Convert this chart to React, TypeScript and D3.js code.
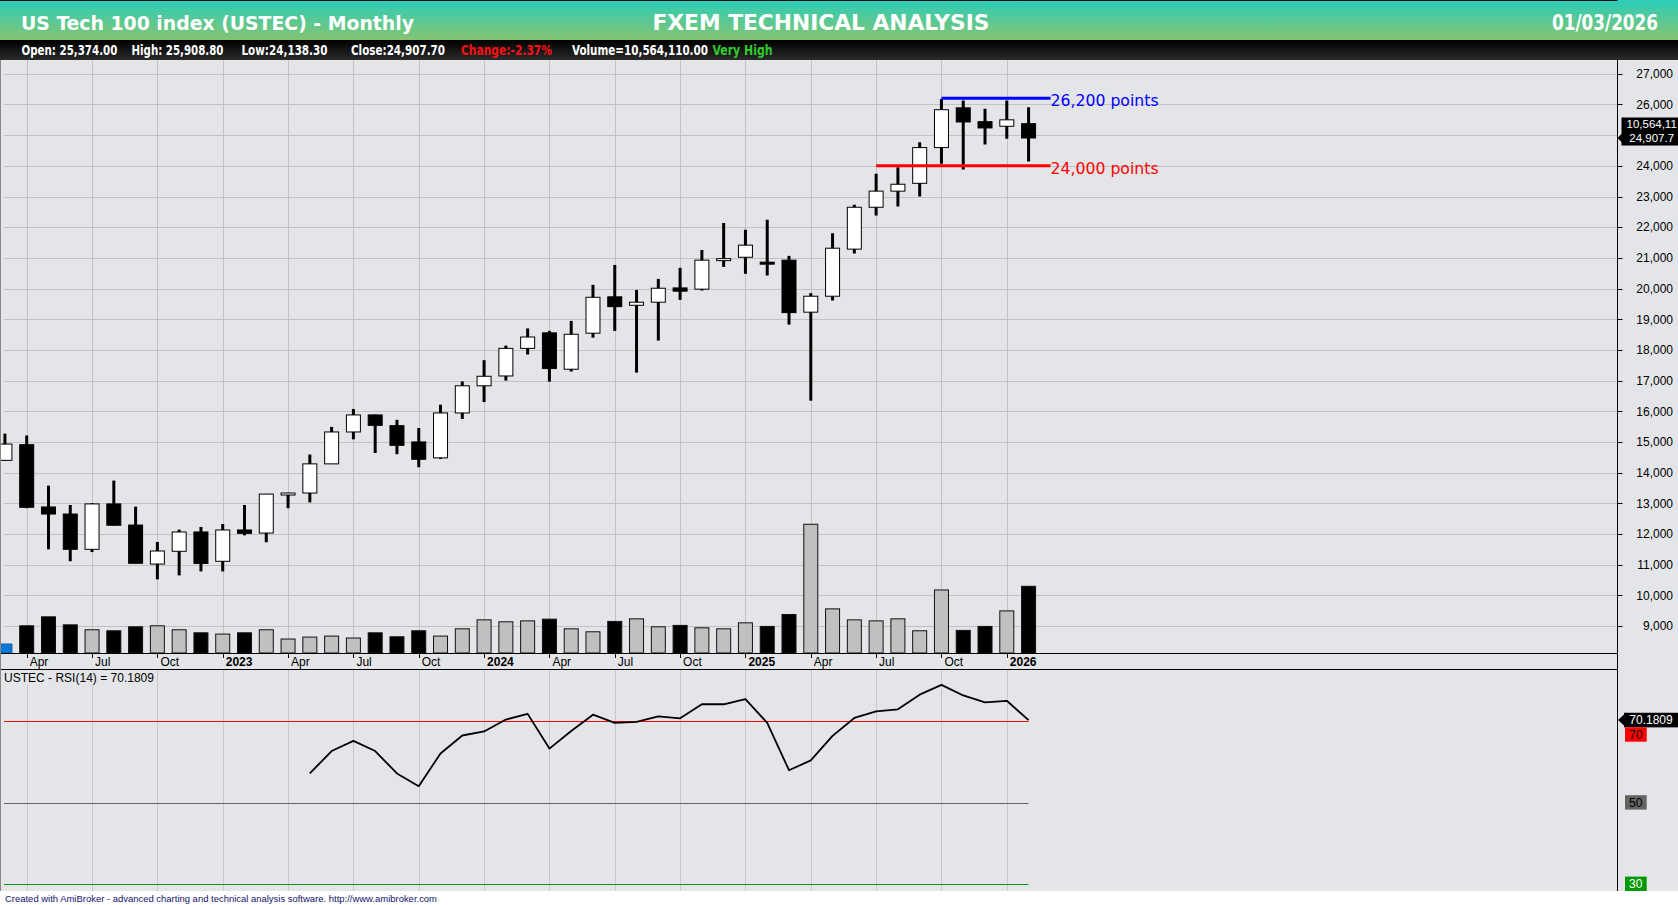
import React from "react";
import * as d3 from "d3";

const months = [
  "2022-03","2022-04","2022-05","2022-06","2022-07","2022-08","2022-09","2022-10","2022-11","2022-12",
  "2023-01","2023-02","2023-03","2023-04","2023-05","2023-06","2023-07","2023-08","2023-09","2023-10","2023-11","2023-12",
  "2024-01","2024-02","2024-03","2024-04","2024-05","2024-06","2024-07","2024-08","2024-09","2024-10","2024-11","2024-12",
  "2025-01","2025-02","2025-03","2025-04","2025-05","2025-06","2025-07","2025-08","2025-09","2025-10","2025-11","2025-12",
  "2026-01","2026-02",
];

const opens = [
  14400, 14910, 12880, 12650, 11500, 12980, 12290, 11020, 11435, 12065,
  11110, 12130, 12030, 13275, 13335, 14285, 15325, 15880, 15530, 15000, 14480, 15945,
  16830, 17150, 18050, 18555, 17370, 18545, 19730, 19455, 19555, 20020, 19980, 20950,
  21020, 20860, 20925, 19230, 19750, 21285, 22650, 23175, 23430, 24595, 25890, 25440,
  25290, 25374,
];
const highs = [
  15270, 15210, 13575, 12945, 13010, 13740, 12890, 11740, 12140, 12230,
  12325, 12945, 13305, 13340, 14590, 15490, 16075, 15890, 15720, 15455, 16215, 16970,
  17665, 18140, 18700, 18620, 18945, 20120, 20770, 19955, 20315, 20675, 21260, 22140,
  21915, 22240, 21065, 19850, 21805, 22730, 23740, 23950, 24770, 26180, 26130, 25860,
  26130, 25908.8,
];
const lows = [
  14380, 12840, 11500, 11110, 11410, 12280, 11040, 10520, 10650, 10780,
  10780, 11955, 11730, 12840, 13030, 14280, 15085, 14640, 14600, 14175, 14445, 15750,
  16300, 17000, 17850, 16965, 17295, 18400, 18620, 17260, 18305, 19630, 19935, 20705,
  20480, 20425, 18825, 16345, 19610, 21140, 22380, 22675, 23000, 24070, 23880, 24695,
  24880, 24138.3,
];
const closes = [
  14930, 12870, 12650, 11500, 12980, 12285, 11045, 11445, 12065, 11040,
  12130, 12020, 13300, 13335, 14285, 15325, 15880, 15540, 14890, 14435, 15945, 16830,
  17140, 18050, 18420, 17390, 18510, 19715, 19410, 19555, 20010, 19915, 20925, 20975,
  21415, 20835, 19215, 19750, 21315, 22650, 23175, 23400, 24595, 25830, 25430, 25235,
  25500, 24907.7,
];
// volume in millions
const volumes = [
  1.42, 4.31, 5.73, 4.46, 3.68, 3.52, 4.15, 4.31, 3.68, 3.2,
  3.0, 3.2, 3.68, 2.21, 2.52, 2.68, 2.37, 3.2, 2.57, 3.52, 2.68, 3.83,
  5.25, 4.94, 5.09, 5.36, 3.83, 3.36, 5.0, 5.41, 4.15, 4.37, 3.99, 3.83,
  4.78, 4.21, 6.1, 20.39, 6.99, 5.25, 5.09, 5.41, 3.52, 9.98, 3.58, 4.21,
  6.67, 10.564,
];

const rsiStart = 14; // 2023-05
const rsiValues = [
  57.1, 62.6, 65.1, 62.6, 57.1, 54.0, 62.0, 66.4,
  67.4, 70.3, 71.7, 63.2, 67.5, 71.5, 69.5, 69.75, 71.1, 70.6, 74.05, 74.05,
  75.3, 69.5, 57.9, 60.3, 66.3, 70.7, 72.3, 72.8, 76.4, 78.8, 76.2, 74.5,
  74.9, 70.1809,
];

const priceTicks = [9000, 10000, 11000, 12000, 13000, 14000, 15000, 16000, 17000, 18000,
  19000, 20000, 21000, 22000, 23000, 24000, 25000, 26000, 27000];

const dateTicks = [
  { i: 1, label: "Apr", year: false }, { i: 4, label: "Jul", year: false }, { i: 7, label: "Oct", year: false },
  { i: 10, label: "2023", year: true }, { i: 13, label: "Apr", year: false }, { i: 16, label: "Jul", year: false },
  { i: 19, label: "Oct", year: false }, { i: 22, label: "2024", year: true }, { i: 25, label: "Apr", year: false },
  { i: 28, label: "Jul", year: false }, { i: 31, label: "Oct", year: false }, { i: 34, label: "2025", year: true },
  { i: 37, label: "Apr", year: false }, { i: 40, label: "Jul", year: false }, { i: 43, label: "Oct", year: false },
  { i: 46, label: "2026", year: true },
];

const levelValues = [26200, 24000];
const levelStarts = [43, 40];
const levelLabels = ["26,200 points", "24,000 points"];
const levelColors = ["#0000ff", "#ff0000"];

const rsiLevels = [70, 50, 30];
const rsiLevelColors = ["#ff0000", "#666666", "#009900"];

const BG = "#e4e5e8";
const GRID = "#c2c2c2";
const AXIS_X = 1617.5;

export default function App() {
  const x = d3.scaleLinear().domain([0, 47]).range([4.92, 1028.58]);
  const yP = d3.scaleLinear().domain([9000, 27000]).range([626.0, 73.8]);
  const yV = d3.scaleLinear().domain([0, 10.564]).range([653, 586.3]);
  const yR = d3.scaleLinear().domain([30, 70]).range([884.2, 720.8]);

  const rsiPts = rsiValues.map((v, k) => [x(rsiStart + k), yR(v)] as [number, number]);
  const rsiPath = d3.line()(rsiPts) || "";

  const lastX = x(months.length - 1);
  const levelEnd = lastX + 22;
  const narrow = "'Liberation Sans Narrow','Arial Narrow','DejaVu Sans Condensed',sans-serif";
  const sans = "'Liberation Sans',Arial,sans-serif";

  const closeY = yP(closes[closes.length - 1]);
  const markerTop = 117.5;
  const markerBottom = 145.5;
  const rsiLast = rsiValues[rsiValues.length - 1];
  const rsiY = yR(rsiLast);

  // labels hidden behind the last-value marker are not drawn (as in the reference)
  const visiblePriceTicks = priceTicks.filter((t) => {
    const yy = yP(t);
    return yy < markerTop - 4 || yy > markerBottom + 4;
  });

  return (
    <svg
      width={1678}
      height={905}
      style={{ position: "fixed", left: 0, top: 0, display: "block" }}
      fontFamily={sans}
    >
      <defs>
        <linearGradient id="hdr" x1="0" y1="0" x2="0" y2="1">
          <stop offset="0" stopColor="#2ccdb9" />
          <stop offset="1" stopColor="#84c471" />
        </linearGradient>
        <linearGradient id="stat" x1="0" y1="0" x2="0" y2="1">
          <stop offset="0" stopColor="#000000" />
          <stop offset="1" stopColor="#2a2a2a" />
        </linearGradient>
        <clipPath id="mainClip">
          <rect x={0} y={60} width={AXIS_X} height={594} />
        </clipPath>
      </defs>

      {/* backgrounds */}
      <rect x={0} y={0} width={1678} height={905} fill="#ffffff" />
      <rect x={0} y={60} width={1678} height={831} fill={BG} />
      <rect x={0} y={0} width={1678} height={40} fill="url(#hdr)" />
      <rect x={0} y={0} width={AXIS_X} height={1} fill="#111" />
      <rect x={0} y={40} width={1678} height={20} fill="url(#stat)" />

      {/* header text */}
      <text x={21} y={30} fill="#fff" fontFamily={narrow} fontWeight="bold" fontSize={19.5}
        textLength={393} lengthAdjust="spacingAndGlyphs">US Tech 100 index (USTEC) - Monthly</text>
      <text x={652.5} y={29.5} fill="#fff" fontFamily={narrow} fontWeight="bold" fontSize={22}
        textLength={337} lengthAdjust="spacingAndGlyphs">FXEM TECHNICAL ANALYSIS</text>
      <text x={1552} y={30} fill="#fff" fontFamily={narrow} fontWeight="bold" fontSize={21}
        textLength={106} lengthAdjust="spacingAndGlyphs">01/03/2026</text>

      <g fontFamily={narrow} fontWeight="bold" fontSize={14}>
        <text x={21.4} y={54.5} fill="#fff" textLength={96} lengthAdjust="spacingAndGlyphs">Open: 25,374.00</text>
        <text x={131.5} y={54.5} fill="#fff" textLength={92} lengthAdjust="spacingAndGlyphs">High: 25,908.80</text>
        <text x={241.5} y={54.5} fill="#fff" textLength={86} lengthAdjust="spacingAndGlyphs">Low:24,138.30</text>
        <text x={351} y={54.5} fill="#fff" textLength={94} lengthAdjust="spacingAndGlyphs">Close:24,907.70</text>
        <text x={461} y={54.5} fill="#ff1010" textLength={91} lengthAdjust="spacingAndGlyphs">Change:-2.37%</text>
        <text x={572} y={54.5} fill="#fff" textLength={136} lengthAdjust="spacingAndGlyphs">Volume=10,564,110.00</text>
        <text x={712.5} y={54.5} fill="#2ecc2e" textLength={60} lengthAdjust="spacingAndGlyphs">Very High</text>
      </g>

      {/* main pane grid */}
      {priceTicks.map((t) => (
        <line key={"hg" + t} x1={4} x2={AXIS_X} y1={Math.round(yP(t)) + 0.5} y2={Math.round(yP(t)) + 0.5}
          stroke={GRID} strokeWidth={1} />
      ))}
      {dateTicks.map((d) => (
        <line key={"vg" + d.i} x1={Math.round(x(d.i)) + 0.5} x2={Math.round(x(d.i)) + 0.5} y1={60} y2={653}
          stroke={GRID} strokeWidth={1} />
      ))}

      <g clipPath="url(#mainClip)">
        {/* volume */}
        {volumes.map((v, i) => {
          const up = closes[i] >= opens[i];
          const fill = i === 0 ? "#0a78d8" : up ? "#c0c0c0" : "#000000";
          const stroke = i === 0 ? "#0a5aa8" : "#111";
          return (
            <rect key={"v" + i} x={x(i) - 7} y={yV(v)} width={14} height={yV(0) - yV(v)}
              fill={fill} stroke={stroke} strokeWidth={1} />
          );
        })}
        {/* candles */}
        {months.map((m, i) => {
          const o = opens[i], c = closes[i], h = highs[i], l = lows[i];
          const up = c >= o;
          const top = yP(Math.max(o, c));
          const bh = Math.max(Math.abs(yP(o) - yP(c)), 2);
          return (
            <g key={m}>
              <line x1={x(i)} x2={x(i)} y1={yP(h)} y2={yP(l)} stroke="#000" strokeWidth={3} />
              <rect x={x(i) - 7} y={top} width={14} height={bh} fill={up ? "#fff" : "#000"}
                stroke="#000" strokeWidth={1} />
            </g>
          );
        })}
      </g>

      {/* level lines */}
      {levelValues.map((v, k) => (
        <g key={"lv" + k}>
          <line x1={x(levelStarts[k])} x2={levelEnd} y1={yP(v)} y2={yP(v)} stroke={levelColors[k]} strokeWidth={3} />
          <text x={levelEnd} y={yP(v) + 8} fill={levelColors[k]} fontFamily="'DejaVu Sans',Verdana,sans-serif"
            fontSize={15.5} textLength={108} lengthAdjust="spacingAndGlyphs">{levelLabels[k]}</text>
        </g>
      ))}

      {/* pane separators */}
      <line x1={0} x2={AXIS_X} y1={653.5} y2={653.5} stroke="#000" strokeWidth={1} />
      <line x1={0} x2={AXIS_X} y1={669.5} y2={669.5} stroke="#000" strokeWidth={1} />
      <line x1={AXIS_X} x2={AXIS_X} y1={60} y2={891} stroke="#000" strokeWidth={1} />
      <line x1={0.5} x2={0.5} y1={60} y2={891} stroke="#888" strokeWidth={1} />

      {/* date axis */}
      {dateTicks.map((d) => (
        <g key={"dt" + d.i}>
          <line x1={Math.round(x(d.i)) + 0.5} x2={Math.round(x(d.i)) + 0.5} y1={654} y2={658} stroke="#000" strokeWidth={1} />
          <text x={x(d.i) + 3} y={665.5} fontSize={12} fontWeight={d.year ? "bold" : "normal"} fill="#000">{d.label}</text>
        </g>
      ))}

      {/* price axis */}
      {visiblePriceTicks.map((t) => (
        <g key={"pt" + t}>
          <line x1={1618} x2={1622.5} y1={Math.round(yP(t)) + 0.5} y2={Math.round(yP(t)) + 0.5} stroke="#000" strokeWidth={1} />
          <text x={1673} y={yP(t) + 4.3} fontSize={12} textAnchor="end" fill="#000">{d3.format(",")(t)}</text>
        </g>
      ))}
      {/* close / volume marker */}
      <rect x={1621.5} y={markerTop} width={60} height={markerBottom - markerTop} fill="#000" />
      <polygon points={`${AXIS_X},${closeY} ${1622},${closeY - 4.5} ${1622},${closeY + 4.5}`} fill="#000" />
      <text x={1626.5} y={127.5} fontSize={11.5} fill="#fff">10,564,11</text>
      <text x={1629.3} y={141.5} fontSize={11.5} fill="#fff">{d3.format(",.1f")(closes[closes.length - 1])}</text>

      {/* RSI pane */}
      {dateTicks.map((d) => (
        <line key={"rg" + d.i} x1={Math.round(x(d.i)) + 0.5} x2={Math.round(x(d.i)) + 0.5} y1={670} y2={891}
          stroke="#c8c8c8" strokeWidth={1} />
      ))}
      <rect x={1} y={670} width={156} height={15} fill={BG} />
      <text x={4} y={682} fontSize={12} fill="#000" textLength={150} lengthAdjust="spacingAndGlyphs">
        {`USTEC - RSI(14) = ${rsiLast.toFixed(4)}`}
      </text>
      {rsiLevels.map((lv, k) => (
        <line key={"rl" + lv} x1={4} x2={lastX} y1={Math.round(yR(lv)) + 0.5} y2={Math.round(yR(lv)) + 0.5}
          stroke={rsiLevelColors[k]} strokeWidth={1} />
      ))}
      <path d={rsiPath} fill="none" stroke="#000" strokeWidth={1.8} strokeLinejoin="round" />

      {/* RSI axis labels */}
      <rect x={1624} y={rsiY - 7.3} width={60} height={14.6} fill="#000" />
      <polygon points={`${AXIS_X + 0.5},${rsiY} ${1624.5},${rsiY - 6} ${1624.5},${rsiY + 6}`} fill="#000" />
      <text x={1629.3} y={rsiY + 4.3} fontSize={12} fill="#fff">{rsiLast.toFixed(4)}</text>

      <rect x={1625} y={727.3} width={21.7} height={14.4} fill="#ff0000" />
      <text x={1635.8} y={738.8} fontSize={12} fill="#111" textAnchor="middle">70</text>
      <rect x={1625} y={yR(50) - 7.3} width={21.7} height={14.4} fill="#646464" />
      <text x={1635.8} y={yR(50) + 4.3} fontSize={12} fill="#000" textAnchor="middle">50</text>
      <rect x={1625} y={yR(30) - 7.6} width={21.7} height={14.4} fill="#009900" />
      <text x={1635.8} y={yR(30) + 4} fontSize={12} fill="#fff" textAnchor="middle">30</text>

      {/* footer */}
      <rect x={0} y={891} width={1678} height={14} fill="#ffffff" />
      <text x={5} y={901.5} fontSize={9} fill="#12126a" textLength={432} lengthAdjust="spacingAndGlyphs">
        Created with AmiBroker - advanced charting and technical analysis software. http://www.amibroker.com
      </text>
    </svg>
  );
}
